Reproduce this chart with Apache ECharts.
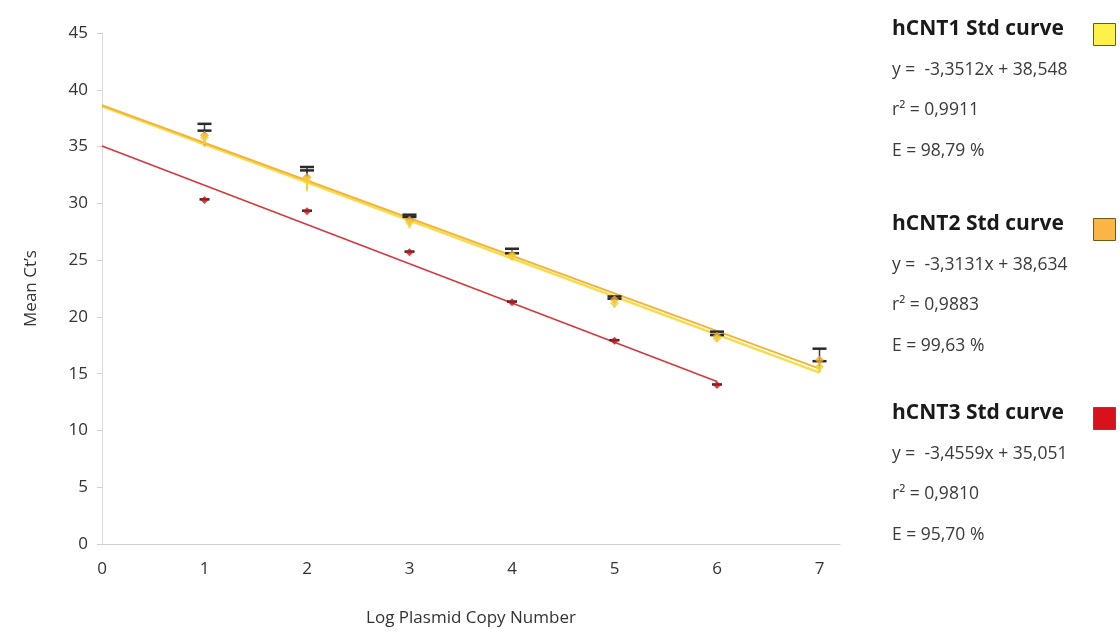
<!DOCTYPE html>
<html>
<head>
<meta charset="utf-8">
<script src="https://cdn.jsdelivr.net/npm/echarts@6/dist/echarts.min.js"></script>
<style>
  html, body { margin: 0; padding: 0; background: #fff; }
  #chart { width: 1120px; height: 632px; }
</style>
</head>
<body>
<div id="chart"></div>
<script>
// Log plasmid copy numbers (x) for the dilution series
const logCopies = [1, 2, 3, 4, 5, 6, 7];
const logCopies3 = [1, 2, 3, 4, 5, 6];

// Mean Ct values and standard deviations per assay
const hcnt1Mean = [35.8, 32.0, 28.3, 25.3, 21.2, 18.1, 15.6];
const hcnt1Err  = [0.6, 0.9, 0.5, 0.3, 0.4, 0.3, 0.5];
const hcnt2Mean = [36.0, 32.3, 28.5, 25.5, 21.5, 18.3, 16.2];
const hcnt2Err  = [1.0, 0.9, 0.5, 0.5, 0.3, 0.4, 1.0];
const hcnt3Mean = [30.3, 29.3, 25.7, 21.3, 17.9, 14.0];
const hcnt3Err  = [0.05, 0.05, 0.05, 0.05, 0.05, 0.05];

// Standard curve fit parameters
const curveNames = ['hCNT1 Std curve', 'hCNT2 Std curve', 'hCNT3 Std curve'];
const slopes     = [-3.3512, -3.3131, -3.4559];
const intercepts = [38.548, 38.634, 35.051];
const rSquared   = [0.9911, 0.9883, 0.9810];
const efficiency = [98.79, 99.63, 95.70];
const curveEnd   = [7, 7, 6];

const yTicks = [0, 5, 10, 15, 20, 25, 30, 35, 40, 45];

const colors = {
  swatch: ['#fff04a', '#fbb545', '#d8121b'],
  line:   ['#f8dc4c', '#f2b53a', '#d9363b'],
  marker: ['#f5d136', '#eeaa2c', '#c9141c']
};

const font = '"Open Sans", "Noto Sans", sans-serif';
const comma = (v, d) => v.toFixed(d).replace('.', ',');

function fitLine(i) {
  return [[0, intercepts[i]], [curveEnd[i], intercepts[i] + slopes[i] * curveEnd[i]]];
}

function errData(xs, means, errs) {
  return xs.map((x, k) => [x, means[k], errs[k]]);
}

// Error bar: dark upper whisker with a heavy cap, lower whisker in the series colour
function makeErrRender(lowColor, half) {
  return function (params, api) {
    const x = api.value(0), m = api.value(1), e = api.value(2);
    const mid = api.coord([x, m]);
    const hi = api.coord([x, m + e]);
    const lo = api.coord([x, m - e]);
    return {
      type: 'group',
      children: [
        { type: 'line', shape: { x1: hi[0], y1: hi[1], x2: mid[0], y2: mid[1] },
          style: { stroke: '#3a3a3a', lineWidth: 1.5 } },
        { type: 'line', shape: { x1: mid[0], y1: mid[1], x2: lo[0], y2: lo[1] },
          style: { stroke: lowColor, lineWidth: 2 } },
        { type: 'line', shape: { x1: hi[0] - half, y1: hi[1], x2: hi[0] + half, y2: hi[1] },
          style: { stroke: '#2a2a2a', lineWidth: 2.5 } }
      ]
    };
  };
}

const chart = echarts.init(document.getElementById('chart'));

// Legend block on the right: title, swatch, equation, r², efficiency
const legendTop = [19, 214, 403];
const graphics = [];
curveNames.forEach((name, i) => {
  const top = legendTop[i];
  graphics.push({
    type: 'text', left: 892, top: top,
    style: { text: name, font: 'bold 21px ' + font, fill: '#1a1a1a' }
  });
  graphics.push({
    type: 'rect', left: 1093, top: top + 4,
    shape: { width: 22, height: 22 },
    style: { fill: colors.swatch[i], stroke: '#6b5a1a', lineWidth: 1 }
  });
  const lines = [
    'y =  ' + comma(slopes[i], 4) + 'x + ' + comma(intercepts[i], 3),
    'r\u00b2 = ' + comma(rSquared[i], 4),
    'E = ' + comma(efficiency[i], 2) + ' %'
  ];
  lines.forEach((t, k) => {
    graphics.push({
      type: 'text', left: 892, top: top + 42 + k * 40.5,
      style: { text: t, font: '17.5px ' + font, fill: '#3a3a3a' }
    });
  });
});

chart.setOption({
  animation: false,
  backgroundColor: '#ffffff',
  grid: { left: 102, right: 280, top: 33, bottom: 85 },
  xAxis: {
    type: 'value', min: 0, max: 7.2, interval: 1,
    name: 'Log Plasmid Copy Number', nameLocation: 'middle', nameGap: 66,
    nameTextStyle: { fontFamily: font, fontSize: 17, color: '#333' },
    axisLine: { onZero: false, lineStyle: { color: '#cfcfcf', width: 1 } },
    axisTick: { show: false },
    splitLine: { show: false },
    axisLabel: {
      fontFamily: font, fontSize: 17, color: '#333', margin: 17,
      formatter: v => (Number.isInteger(v) ? String(v) : '')
    }
  },
  yAxis: {
    type: 'value', min: yTicks[0], max: yTicks[yTicks.length - 1], interval: 5,
    name: "Mean Ct\u2019s", nameLocation: 'middle', nameGap: 62, nameRotate: 90,
    nameTextStyle: { fontFamily: font, fontSize: 17, color: '#333' },
    axisLine: { show: true, lineStyle: { color: '#dcdcdc', width: 1 } },
    axisTick: { show: true, length: 5, lineStyle: { color: '#cfcfcf' } },
    splitLine: { show: false },
    axisLabel: { fontFamily: font, fontSize: 17, color: '#333', margin: 14 }
  },
  graphic: graphics,
  series: [
    { type: 'line', name: 'fit1', data: fitLine(0), symbol: 'none', z: 2,
      lineStyle: { color: colors.line[0], width: 2.5 } },
    { type: 'line', name: 'fit2', data: fitLine(1), symbol: 'none', z: 2,
      lineStyle: { color: colors.line[1], width: 2 } },
    { type: 'line', name: 'fit3', data: fitLine(2), symbol: 'none', z: 2,
      lineStyle: { color: colors.line[2], width: 1.5 } },
    { type: 'custom', renderItem: makeErrRender(colors.marker[1], 7),
      data: errData(logCopies, hcnt2Mean, hcnt2Err), z: 3 },
    { type: 'custom', renderItem: makeErrRender(colors.marker[0], 7),
      data: errData(logCopies, hcnt1Mean, hcnt1Err), z: 3 },
    { type: 'custom', renderItem: makeErrRender(colors.marker[2], 5),
      data: errData(logCopies3, hcnt3Mean, hcnt3Err), z: 3 },
    { type: 'scatter', name: 'hCNT2', data: logCopies.map((x, k) => [x, hcnt2Mean[k]]),
      symbol: 'diamond', symbolSize: 9, z: 4, itemStyle: { color: colors.marker[1] } },
    { type: 'scatter', name: 'hCNT1', data: logCopies.map((x, k) => [x, hcnt1Mean[k]]),
      symbol: 'diamond', symbolSize: 9, z: 4, itemStyle: { color: colors.marker[0] } },
    { type: 'scatter', name: 'hCNT3', data: logCopies3.map((x, k) => [x, hcnt3Mean[k]]),
      symbol: 'diamond', symbolSize: 8, z: 4, itemStyle: { color: colors.marker[2] } }
  ]
});
</script>
</body>
</html>
